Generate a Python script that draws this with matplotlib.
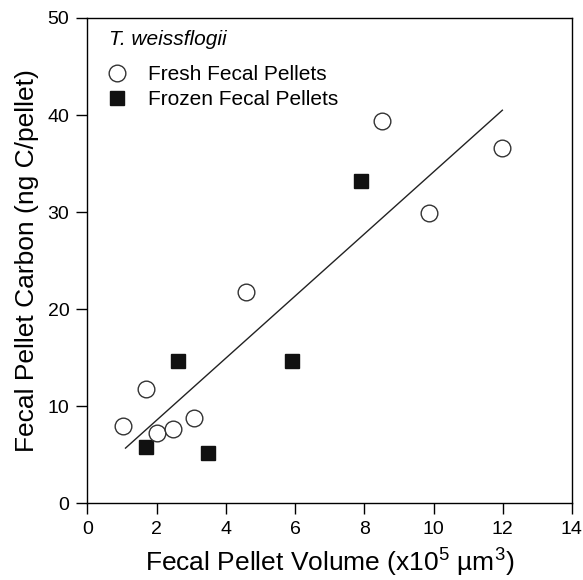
import matplotlib
matplotlib.use("Agg")
import matplotlib.pyplot as plt

# values
fresh_x = [1.03, 1.69, 2.0, 2.46, 3.08, 4.58, 8.50, 9.88, 11.97]
fresh_y = [8.0, 11.8, 7.3, 7.7, 8.8, 21.8, 39.4, 29.9, 36.6]
frozen_x = [1.69, 2.61, 3.47, 5.90, 7.90]
frozen_y = [5.8, 14.7, 5.2, 14.7, 33.2]
fit_x = [1.10, 11.99]
fit_y = [5.7, 40.5]

x_ticks = [0, 2, 4, 6, 8, 10, 12, 14]
y_ticks = [0, 10, 20, 30, 40, 50]

plt.rcParams["font.family"] = ["Liberation Sans", "DejaVu Sans"]
plt.rcParams["mathtext.fontset"] = "custom"
plt.rcParams["mathtext.rm"] = "Liberation Sans"
plt.rcParams["mathtext.it"] = "Liberation Sans:italic"

fig = plt.figure(figsize=(5.83, 5.80), dpi=100)
ax = fig.add_axes([0.150, 0.132, 0.831, 0.837])

ax.plot(fit_x, fit_y, color="#222222", lw=1.0, zorder=1)
ax.plot(fresh_x, fresh_y, "o", ms=12, mfc="white", mec="#333333", mew=1.0,
        ls="none", label="Fresh Fecal Pellets", zorder=3)
ax.plot(frozen_x, frozen_y, "s", ms=10, mfc="#111111", mec="#111111",
        ls="none", label="Frozen Fecal Pellets", zorder=2)

ax.set_xlim(0, 14)
ax.set_ylim(0, 50)
ax.set_xticks(x_ticks)
ax.set_yticks(y_ticks)
ax.tick_params(direction="out", length=8, width=1, labelsize=14, pad=5)
for s in ax.spines.values():
    s.set_linewidth(1.0)

ax.set_xlabel("Fecal Pellet Volume (x10$^{5}$ µm$^{3}$)", fontsize=19, labelpad=6)
ax.set_ylabel("Fecal Pellet Carbon (ng C/pellet)", fontsize=19, labelpad=6)

ax.text(0.044, 0.955, "T. weissflogii", transform=ax.transAxes,
        fontsize=15, style="italic", ha="left", va="center")
ax.legend(loc="upper left", bbox_to_anchor=(0.0394, 0.903), frameon=False,
          fontsize=15, handletextpad=1.0, labelspacing=0.29,
          borderaxespad=0, borderpad=0, handlelength=1.0)

fig.savefig("out.png", dpi=100)
